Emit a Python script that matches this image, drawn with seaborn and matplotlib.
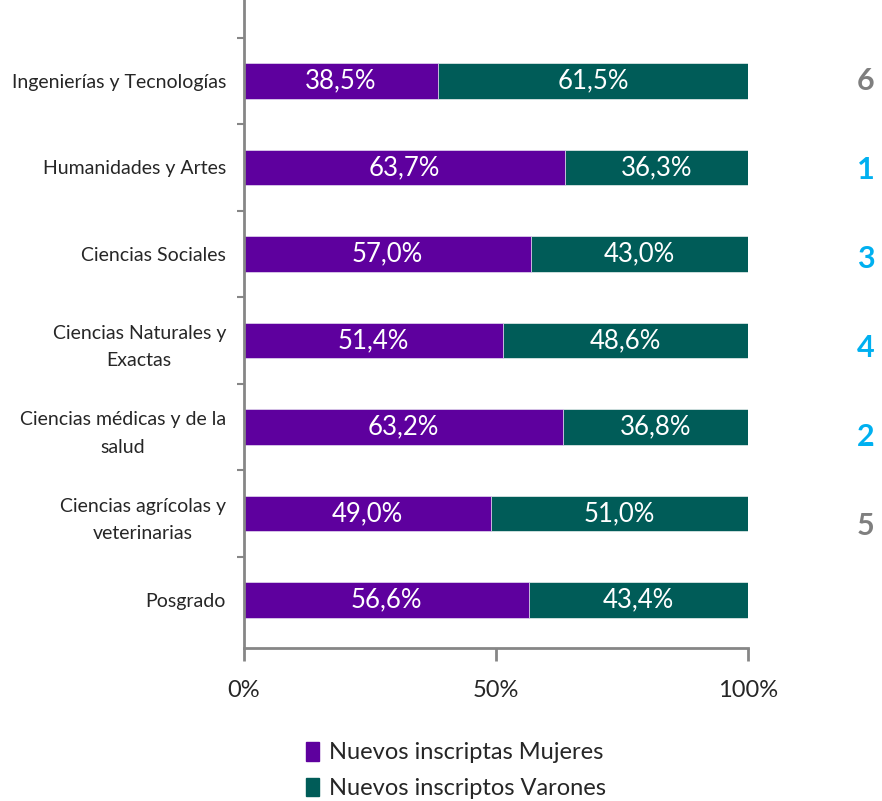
import pandas as pd
import matplotlib.pyplot as plt
import seaborn as sns
from matplotlib.patches import Patch
from matplotlib.ticker import FixedLocator

categorias = [
    "Ingenierías y Tecnologías",
    "Humanidades y Artes",
    "Ciencias Sociales",
    "Ciencias Naturales y\nExactas",
    "Ciencias médicas y de la\nsalud",
    "Ciencias agrícolas y\nveterinarias",
    "Posgrado",
]
mujeres = [38.5, 63.7, 57.0, 51.4, 63.2, 49.0, 56.6]
varones = [61.5, 36.3, 43.0, 48.6, 36.8, 51.0, 43.4]
ranking = ["6", "1", "3", "4", "2", "5"]
ranking_col = ["#7F7F7F", "#00B0F0", "#00B0F0", "#00B0F0", "#00B0F0", "#7F7F7F"]

purple = "#5E009E"
teal = "#005C58"
gris = "#868686"

sns.set_style("white")
plt.rcParams["font.family"] = ["Lato", "DejaVu Sans"]

df = pd.DataFrame({"cat": categorias, "muj": mujeres, "var": varones})
df["total"] = df["muj"] + df["var"]

fig = plt.figure(figsize=(8.82, 8.01), dpi=100)
ax = fig.add_axes([244 / 882, 1 - 648 / 801, 504 / 882, 648 / 801])

sns.barplot(data=df, x="total", y="cat", color=teal, width=0.41, ax=ax,
            edgecolor="#d8e4e4", linewidth=0.6, saturation=1)
sns.barplot(data=df, x="muj", y="cat", color=purple, width=0.41, ax=ax,
            edgecolor="#e0d0ee", linewidth=0.6, saturation=1)

for i, (m, v) in enumerate(zip(mujeres, varones)):
    ax.text(m / 2, i, f"{m:.1f}%".replace(".", ","), color="white",
            ha="center", va="center", fontsize=18.5)
    ax.text(m + v / 2, i, f"{v:.1f}%".replace(".", ","), color="white",
            ha="center", va="center", fontsize=18.5)

for i, (r, c) in enumerate(zip(ranking, ranking_col)):
    ax.text(123.4, i + 0.03 * i, r, color=c, ha="center", va="center", fontsize=22,
            fontweight="bold", clip_on=False)

ax.set_xlim(0, 100)
ax.set_ylim(6.555, -0.936)
ax.set_xticks([0, 50, 100])
ax.set_xticklabels(["0%", "50%", "100%"], fontsize=17)
ax.set_yticks(range(len(categorias)))
ax.set_yticklabels(categorias, fontsize=14, multialignment="center", linespacing=1.75)
ax.yaxis.set_minor_locator(FixedLocator([i - 0.5 for i in range(7)]))
ax.tick_params(axis="y", which="major", length=0, pad=13)
ax.tick_params(axis="y", which="minor", length=5, width=1.5, color=gris, left=True)
ax.tick_params(axis="x", length=9, width=2, color=gris, bottom=True, pad=14)
ax.set_xlabel("")
ax.set_ylabel("")

for s in ["top", "right"]:
    ax.spines[s].set_visible(False)
for s in ["left", "bottom"]:
    ax.spines[s].set_color(gris)
    ax.spines[s].set_linewidth(2)

handles = [Patch(color=purple, label="Nuevos inscriptas Mujeres"),
           Patch(color=teal, label="Nuevos inscriptos Varones")]
fig.legend(handles=handles, loc="upper left", bbox_to_anchor=(294 / 882, 1 - 730 / 801),
           frameon=False, fontsize=17, handlelength=0.55, handleheight=0.85,
           handletextpad=0.45, labelspacing=0.6, borderpad=0)

fig.savefig("out.png", dpi=100)
